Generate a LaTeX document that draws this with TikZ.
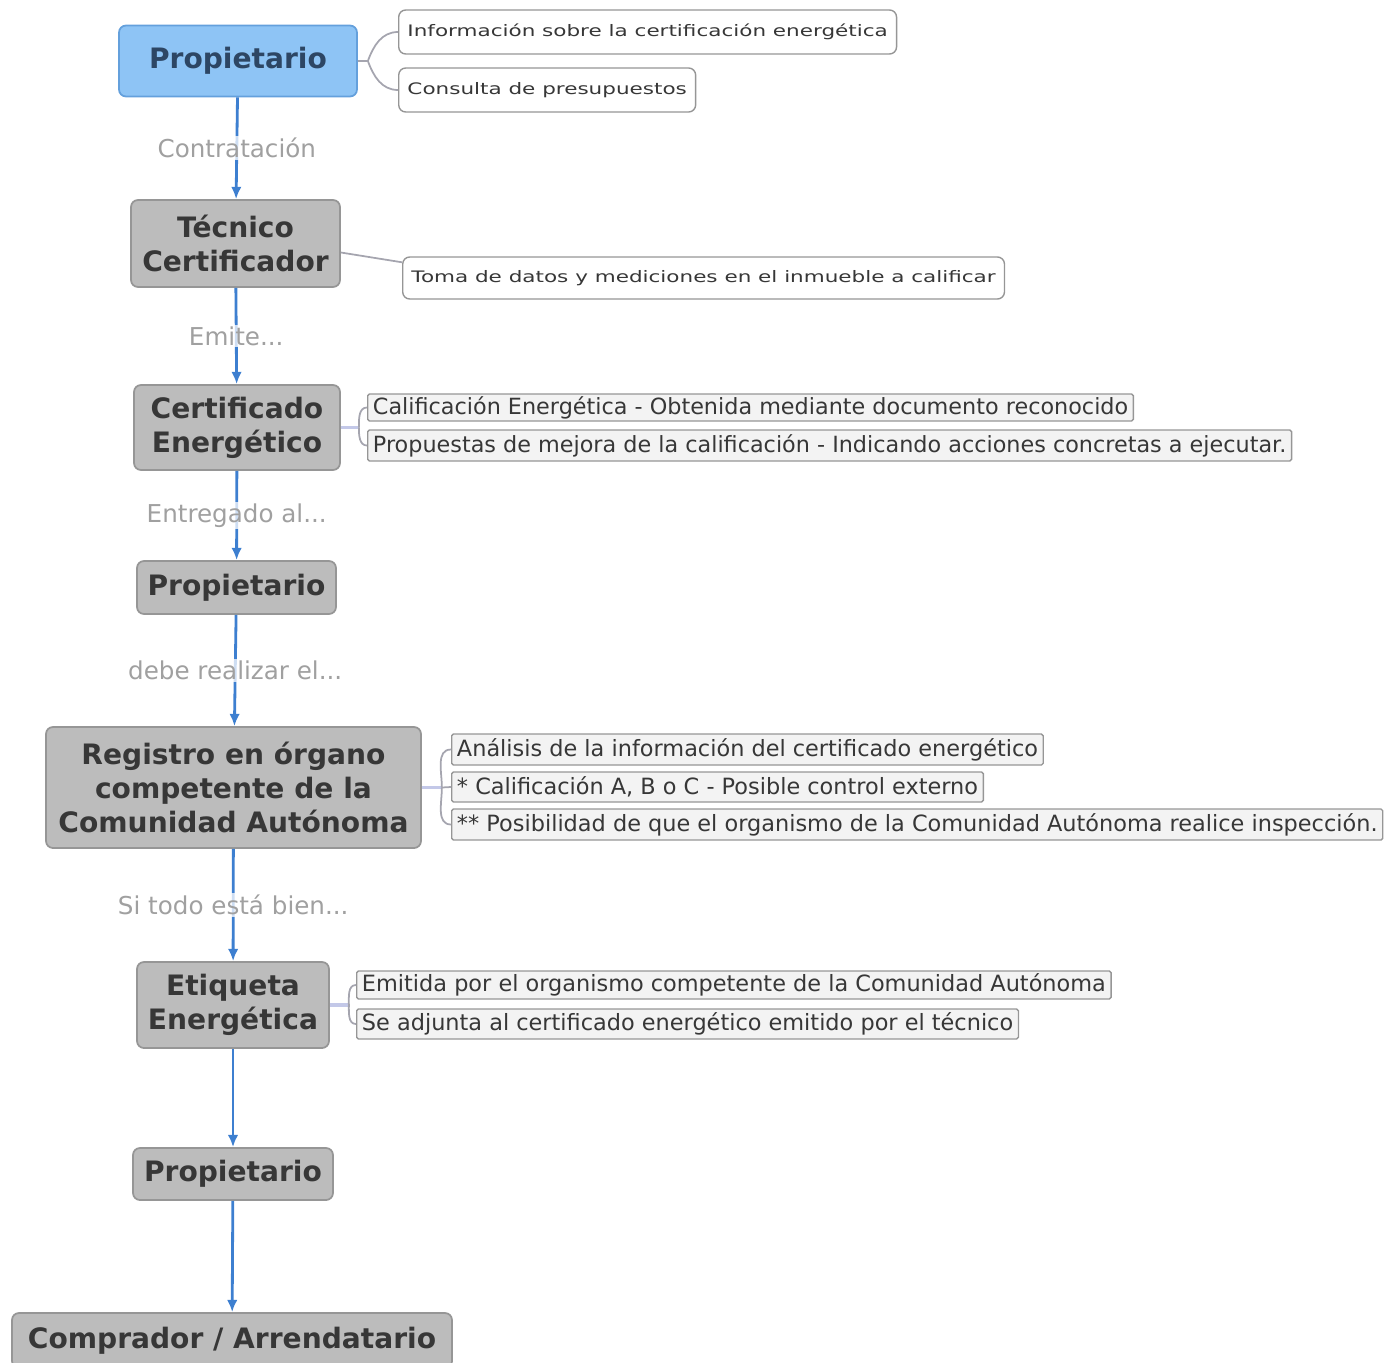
\documentclass[tikz,border=0pt]{standalone}
\usepackage{fontspec}
\setmainfont{DejaVu Sans}
\newfontfamily\thinfont[FakeStretch=1.36]{DejaVu Sans}
\usetikzlibrary{arrows.meta, positioning, calc}
\definecolor{flowblue}{RGB}{61, 127, 208}
\definecolor{ownerblue}{RGB}{142, 196, 245}
\definecolor{ownerborder}{RGB}{100, 160, 220}
\definecolor{ownertext}{RGB}{45, 70, 100}
\definecolor{stepgray}{RGB}{188, 188, 188}
\definecolor{stepborder}{RGB}{150, 150, 150}
\definecolor{textdark}{RGB}{55, 55, 55}
\definecolor{labelgray}{RGB}{160, 160, 160}
\definecolor{notefill}{RGB}{243, 243, 243}
\definecolor{bracegray}{RGB}{165, 165, 175}
\definecolor{stublav}{RGB}{195, 200, 232}
\newcommand{\pxu}{0.02cm}
\tikzset{
    % Main step of the process
    mainblock/.style={
        draw=stepborder, line width=1pt,
        fill=stepgray,
        rounded corners=4pt,
        font=\fontsize{16}{19.5}\selectfont\bfseries,
        text=textdark,
        align=center,
        inner sep=2pt,
    },
    % First owner block (highlighted)
    ownerblock/.style={
        mainblock,
        fill=ownerblue,
        draw=ownerborder,
        text=ownertext,
    },
    % White side box
    leafbox/.style={
        draw=stepborder, line width=0.8pt,
        fill=white,
        rounded corners=4pt,
        font=\thinfont\fontsize{9}{11}\selectfont,
        text=textdark,
        anchor=west,
        inner xsep=5pt,
    },
    % Grey side note
    notebox/.style={
        draw=stepborder, line width=0.8pt,
        fill=notefill,
        rounded corners=1pt,
        font=\fontsize{#1}{#1}\selectfont,
        text=textdark,
        anchor=west,
        inner xsep=3pt, inner ysep=0pt,
    },
    % Blue flow arrow
    flowarrow/.style={
        -{Latex[length=7pt,width=6pt]},
        line width=1.6pt,
        flowblue,
    },
    % Arrow label
    steplabel/.style={
        font=\fontsize{14}{16}\selectfont,
        text=labelgray,
        fill=white,
        fill opacity=0.75,
        text opacity=1,
        inner sep=1pt,
    },
    % Brace links to notes
    bracelink/.style={bracegray, line width=1pt},
    stublink/.style={stublav, line width=2pt},
}

\begin{document}
\begin{tikzpicture}[x=0.02cm, y=-0.02cm]
\useasboundingbox (0,0) rectangle (1385,1362);

% =========================================================================
% MAIN STEPS
% =========================================================================
\node[ownerblock, minimum width=238*\pxu, minimum height=71*\pxu] (prop1) at (238,61) {Propietario};
\node[mainblock, minimum width=209*\pxu, minimum height=87*\pxu] (tec) at (235.5,243.5) {Técnico\\Certificador};
\node[mainblock, minimum width=206*\pxu, minimum height=85*\pxu] (cert) at (237,427.5) {Certificado\\Energético};
\node[mainblock, minimum width=199*\pxu, minimum height=53*\pxu] (prop2) at (236.5,587.5) {Propietario};
\node[mainblock, minimum width=375*\pxu, minimum height=121*\pxu] (reg) at (233.5,787.5) {Registro en órgano\\competente de la\\Comunidad Autónoma};
\node[mainblock, minimum width=192*\pxu, minimum height=86*\pxu] (etiq) at (233,1005) {Etiqueta\\Energética};
\node[mainblock, minimum width=200*\pxu, minimum height=52*\pxu] (prop3) at (233,1174) {Propietario};
\node[mainblock, minimum width=440*\pxu, minimum height=55*\pxu] (comp) at (232,1340.5) {Comprador / Arrendatario};

% =========================================================================
% SIDE NOTES
% =========================================================================
% --- Propietario ---
\node[leafbox, minimum height=44*\pxu] (info1) at (398,32) {Información sobre la certificación energética};
\node[leafbox, minimum height=44*\pxu] (info2) at (398,90) {Consulta de presupuestos};

% --- Técnico ---
\node[leafbox, minimum height=42*\pxu] (toma) at (402,278) {Toma de datos y mediciones en el inmueble a calificar};

% --- Certificado ---
\node[notebox=12.7, minimum height=27*\pxu] (calif) at (367,407.5) {Calificación Energética - Obtenida mediante documento reconocido};
\node[notebox=12.7, minimum height=31*\pxu] (mejora) at (367,445.5) {Propuestas de mejora de la calificación - Indicando acciones concretas a ejecutar.};

% --- Registro ---
\node[notebox=12.75, minimum height=31*\pxu] (anal) at (451,749.5) {Análisis de la información del certificado energético};
\node[notebox=12.75, minimum height=30*\pxu] (califA) at (451,787) {* Calificación A, B o C - Posible control externo};
\node[notebox=12.75, minimum height=31*\pxu] (posib) at (451,824.5) {** Posibilidad de que el organismo de la Comunidad Autónoma realice inspección.};

% --- Etiqueta ---
\node[notebox=12.75, minimum height=28*\pxu] (emit) at (356,985) {Emitida por el organismo competente de la Comunidad Autónoma};
\node[notebox=12.75, minimum height=30*\pxu] (adj) at (356,1024) {Se adjunta al certificado energético emitido por el técnico};

% =========================================================================
% FLOW ARROWS
% =========================================================================
\draw[flowarrow] (prop1) -- node[steplabel] {Contratación} (tec);
\draw[flowarrow] (tec) -- node[steplabel] {Emite...} (cert);
\draw[flowarrow] (cert) -- node[steplabel] {Entregado al...} (prop2);
\draw[flowarrow] (prop2) -- node[steplabel] {debe realizar el...} (reg);
\draw[flowarrow] (reg) -- node[steplabel] {Si todo está bien...} (etiq);
\draw[flowarrow] (etiq) -- (prop3);
\draw[flowarrow] (prop3) -- (comp);

% =========================================================================
% LINKS TO NOTES
% =========================================================================
\coordinate (fork1) at ($(prop1.east)+(10,0)$);
\draw[bracelink] (prop1.east) -- (fork1) to[out=70,in=180] (info1.west);
\draw[bracelink] (fork1) to[out=-70,in=180] (info2.west);

\draw[bracelink] ($(tec.east)+(0,9)$) -- ($(toma.north west)+(0,6)$);

\coordinate (fork3) at ($(cert.east)+(18,0)$);
\draw[stublink] (cert.east) -- (fork3);
\draw[bracelink] (fork3) to[out=90,in=180] (calif.west);
\draw[bracelink] (fork3) to[out=-90,in=180] (mejora.west);

\coordinate (fork5) at ($(reg.east)+(20,0)$);
\draw[stublink] (reg.east) -- (fork5);
\draw[bracelink] (fork5) to[out=90,in=180] (anal.west);
\draw[bracelink] (fork5) -- (califA.west);
\draw[bracelink] (fork5) to[out=-90,in=180] (posib.west);

\coordinate (fork6) at ($(etiq.east)+(19,0)$);
\draw[stublink] (etiq.east) -- (fork6);
\draw[bracelink] (fork6) to[out=90,in=180] (emit.west);
\draw[bracelink] (fork6) to[out=-90,in=180] (adj.west);

\end{tikzpicture}
\end{document}
